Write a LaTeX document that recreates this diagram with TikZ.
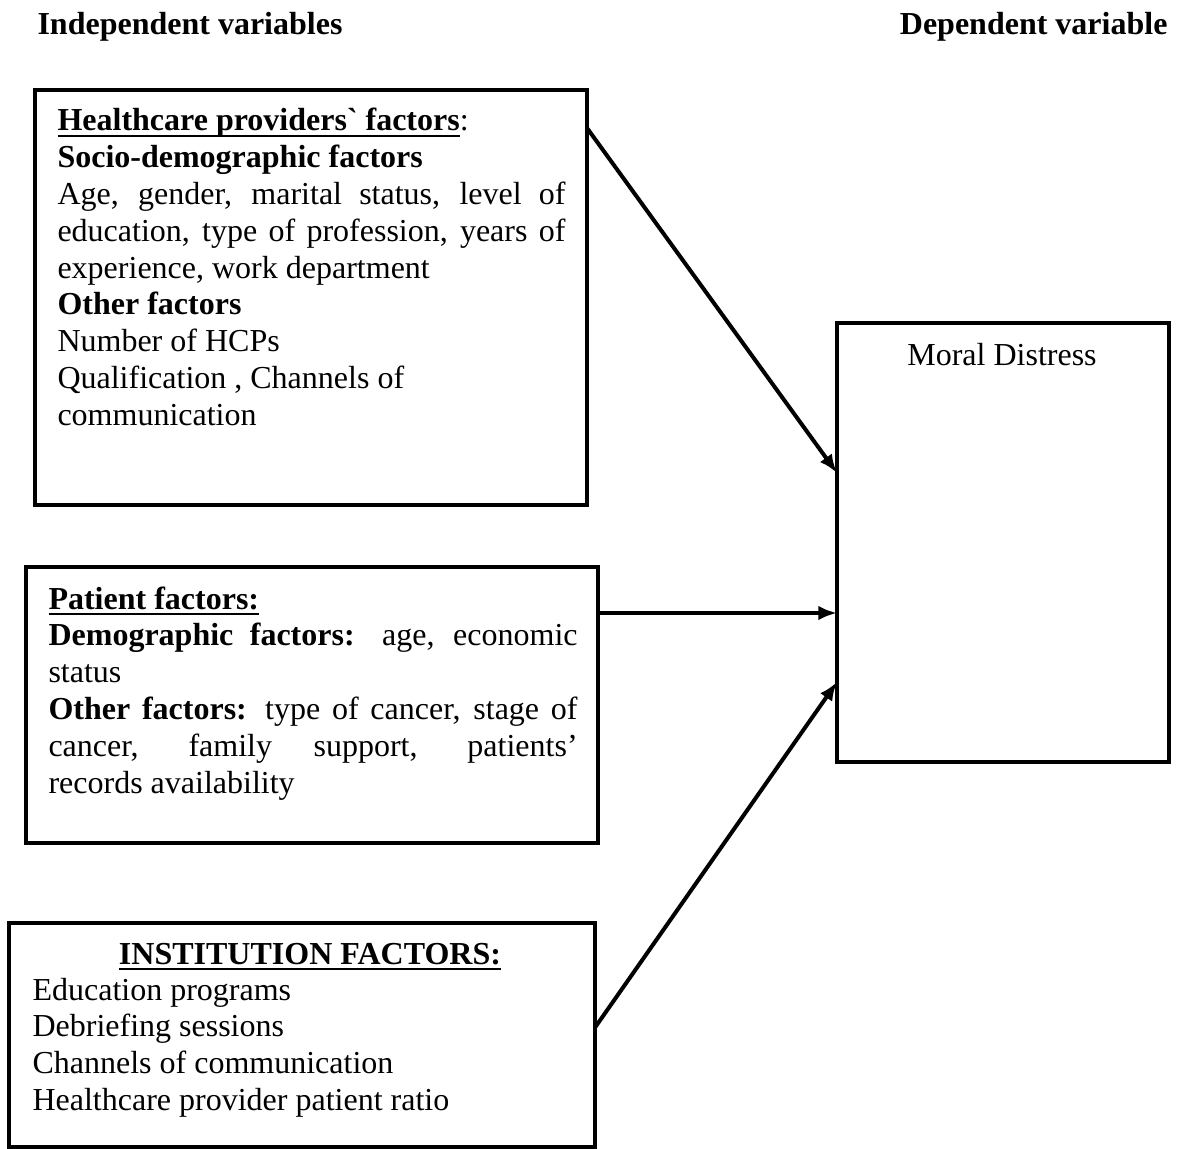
\documentclass[tikz,border=0pt]{standalone}
\usepackage{fontspec}
\setmainfont{Liberation Serif}[Ligatures=TeXOff]
\usetikzlibrary{positioning,calc,arrows.meta}
\setlength{\parindent}{0pt}
\tolerance=10000
\hyphenpenalty=10000
\hbadness=10000

\newsavebox\ulbox
\newcommand{\ulin}[1]{\sbox\ulbox{#1}\rlap{\rule[-2.4pt]{\wd\ulbox}{1pt}}\usebox\ulbox}

\tikzset{
  frame/.style={draw, line width=1.5pt, inner sep=0pt, outer sep=0pt, anchor=north west},
  body/.style={inner sep=0pt, anchor=base west, font=\fontsize{12}{13.8}\selectfont},
  para/.style={body, align=justify, text width=#1},
  hd/.style={body, font=\fontsize{12}{13.8}\selectfont\bfseries},
  arr/.style={line width=1.5pt, -{Latex[length=7pt,width=5.5pt]}}
}

\begin{document}
\begin{tikzpicture}[x=0.375pt, y=-0.375pt]

  \useasboundingbox (0,0) rectangle (1179,1148);

  % headings
  \node[hd] (indep) at (37,35) {Independent variables};
  \node[hd, anchor=base east] (dep) at (1168,35) {Dependent variable};

  % boxes
  \node[frame, minimum width=207pt, minimum height=155.6pt] (hcp) at (35,90) {};
  \node[frame, minimum width=214.5pt, minimum height=103.5pt] (pat) at (26,567) {};
  \node[frame, minimum width=219.75pt, minimum height=84pt] (inst) at (9,923) {};
  \node[frame, minimum width=124.5pt, minimum height=164.625pt] (md) at (837,323) {};

  % healthcare providers
  \node[para=190.5pt] (hcptxt) at (57,131) {%
    \ulin{\textbf{Healthcare providers` factors}}:\par
    \textbf{Socio-demographic factors}\par
    Age, gender, marital status, level of\linebreak
    education, type of profession, years of\linebreak
    experience, work department\par
    \textbf{Other factors}\par
    Number of HCPs\par
    Qualification , Channels of\newline
    communication};

  % patient
  \node[para=198.4pt] (pattxt) at (48,609) {%
    \ulin{\textbf{Patient factors:}}\par
    \textbf{Demographic factors:} age, economic\linebreak
    status\par
    \textbf{Other factors:} type of cancer, stage of\linebreak
    cancer, family support, patients’\linebreak
    records availability};

  % institution
  \node[hd, anchor=base] (insthd) at (310,964) {\ulin{INSTITUTION FACTORS:}};
  \foreach \i/\t in {0/Education programs, 1/Debriefing sessions,
                     2/Channels of communication, 3/Healthcare provider patient ratio} {
    \node[body] (inst\i) at (32, 1000+\i*36.7) {\t};
  }

  \node[body, anchor=base] (mdtxt) at (1002,365) {Moral Distress};

  % links
  \draw[arr] ($(hcp.north east)+(0,38)$) -- ($(md.west)+(0,-69.5)$);
  \draw[arr] ($(pat.north east)+(0,46)$) -- ($(md.west)+(0,70.5)$);
  \draw[arr] ($(inst.east)+(0,-7.5)$) -- ($(md.west)+(0,139.5)$);

\end{tikzpicture}
\end{document}
